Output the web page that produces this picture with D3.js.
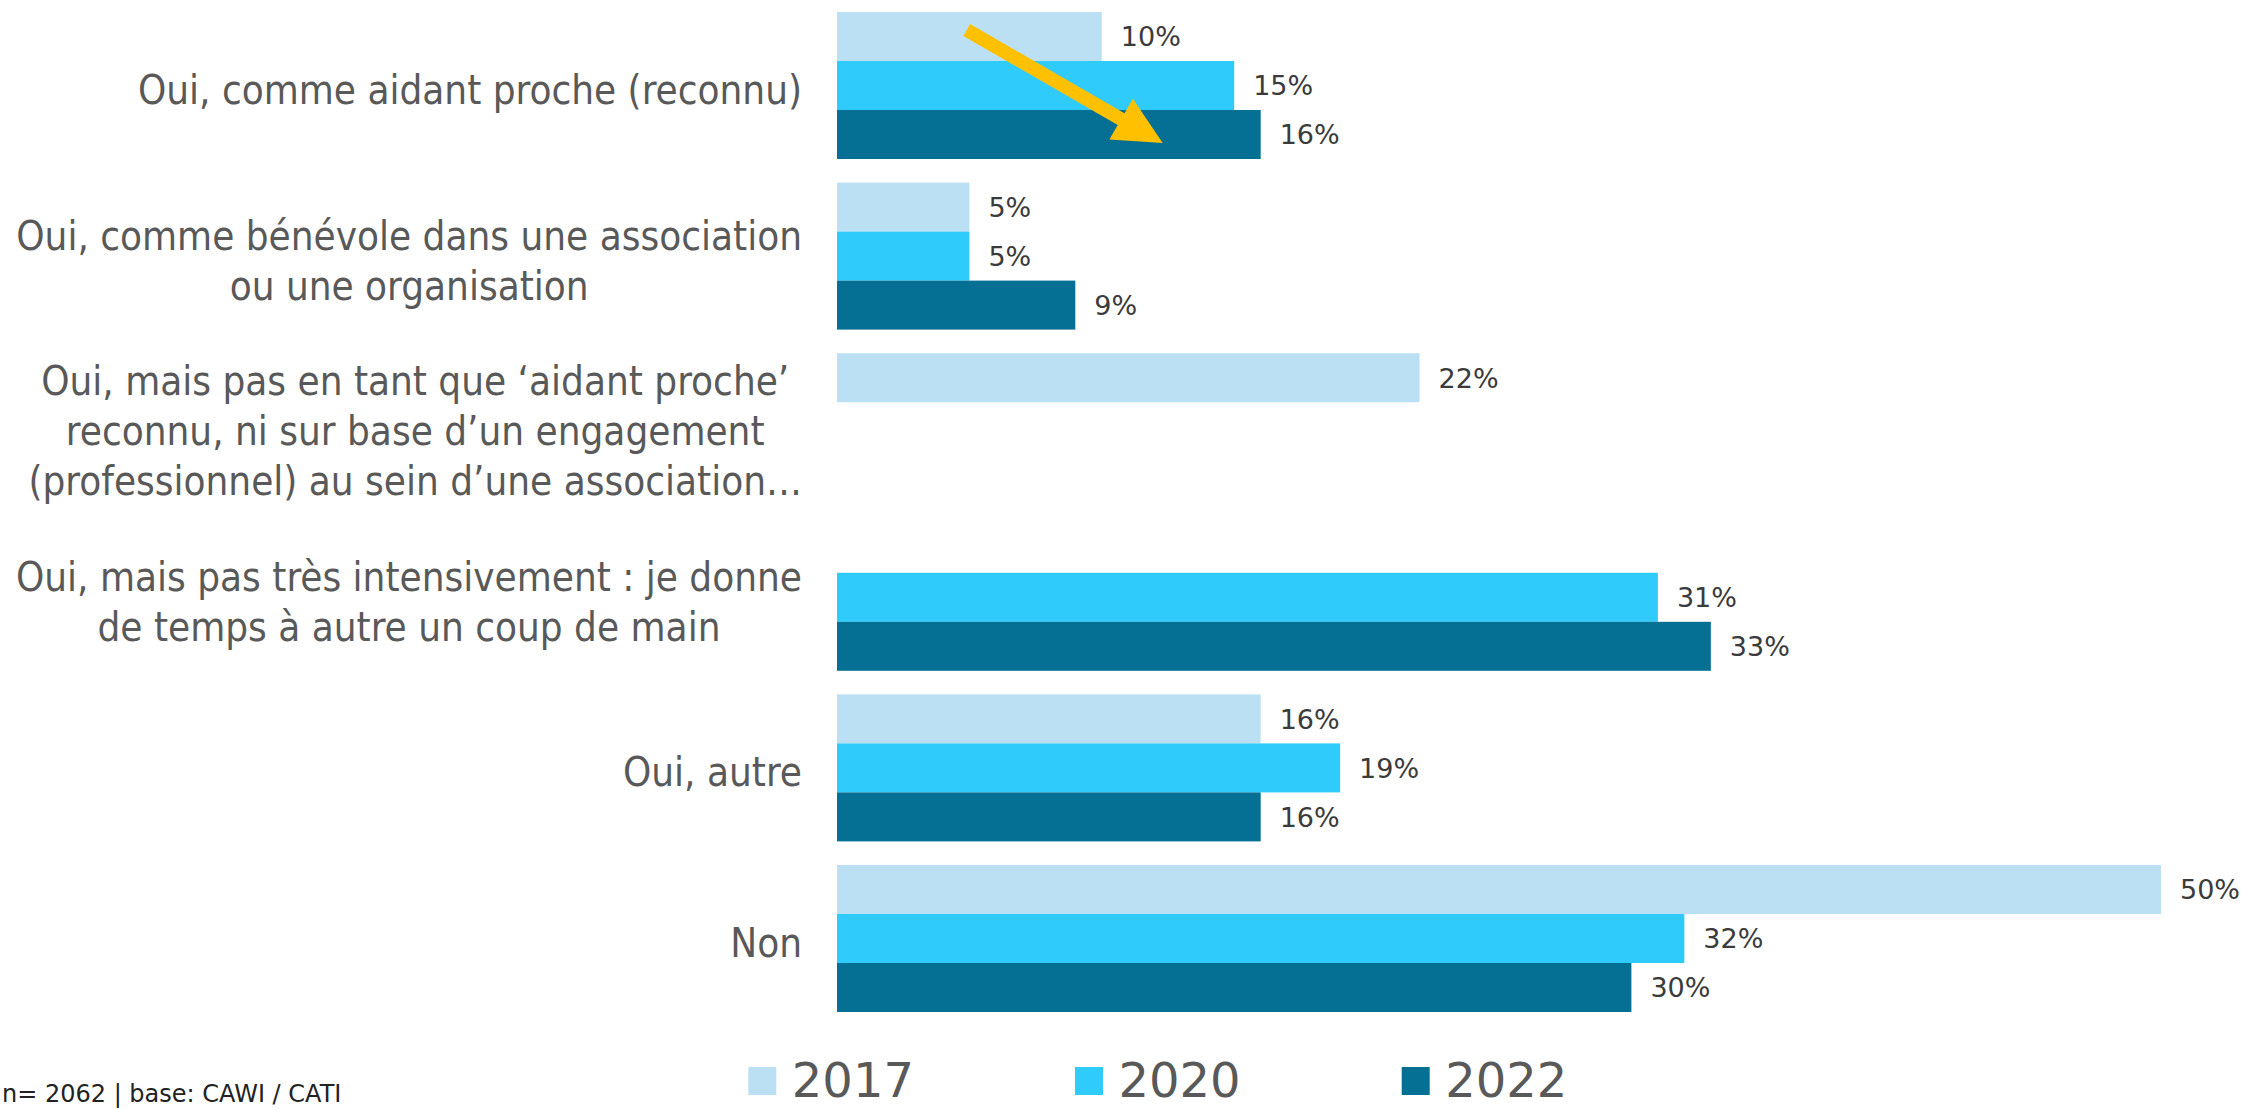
<!DOCTYPE html>
<html lang="fr">
<head>
<meta charset="utf-8">
<script src="https://cdn.jsdelivr.net/npm/d3@7"></script>
<style>
  html, body { margin: 0; padding: 0; background: #ffffff; }
  svg { display: block; }
  .cat { font-family: "DejaVu Sans Condensed", "DejaVu Sans", sans-serif; font-stretch: condensed; fill: #595959; }
  .val { font-family: "DejaVu Sans", sans-serif; fill: #3b3b3b; }
  .leg { font-family: "DejaVu Sans", sans-serif; fill: #595959; }
  .note { font-family: "DejaVu Sans", sans-serif; fill: #222222; }
</style>
</head>
<body>
<svg id="chart" width="2245" height="1109"></svg>
<script>
// Answer categories (multi-line labels split on "\n")
const categories = [
  "Oui, comme aidant proche (reconnu)",
  "Oui, comme bénévole dans une association\nou une organisation",
  "Oui, mais pas en tant que ‘aidant proche’\nreconnu, ni sur base d’un engagement\n(professionnel) au sein d’une association…",
  "Oui, mais pas très intensivement : je donne\nde temps à autre un coup de main",
  "Oui, autre",
  "Non"
];

// Survey waves
const years = ["2017", "2020", "2022"];

// Shares (%) per wave; null = answer not offered that year
const values2017 = [10, 5, 22, null, 16, 50];
const values2020 = [15, 5, null, 31, 19, 32];
const values2022 = [16, 9, null, 33, 16, 30];

const colors = ["#bbe0f4", "#2ecbfb", "#057093"];
const footnote = "n= 2062  |  base: CAWI / CATI";

const seriesByYear = [values2017, values2020, values2022];
const rows = categories.map((c, i) => ({
  category: c,
  bars: years.map((y, k) => ({ year: y, value: seriesByYear[k][i], color: colors[k] }))
}));

const svg = d3.select("#chart");

const x = d3.scaleLinear().domain([0, 50]).range([837, 2161]);
const y0 = d3.scaleBand().domain(categories).range([0.2, 1023.8])
  .paddingInner(0.1383).paddingOuter(0.0692);
const y1 = d3.scaleBand().domain(years).range([0, y0.bandwidth()]).padding(0);

// Bars
const groups = svg.append("g").selectAll("g.group")
  .data(rows).join("g")
  .attr("class", "group")
  .attr("transform", d => `translate(0,${y0(d.category)})`);

groups.selectAll("rect")
  .data(d => d.bars.filter(b => b.value !== null))
  .join("rect")
  .attr("x", x(0))
  .attr("y", b => y1(b.year))
  .attr("width", b => x(b.value) - x(0))
  .attr("height", y1.bandwidth())
  .attr("fill", b => b.color);

// Value labels
const valSize = 27;
groups.selectAll("text.val")
  .data(d => d.bars.filter(b => b.value !== null))
  .join("text")
  .attr("class", "val")
  .attr("x", b => x(b.value) + 19)
  .attr("y", b => y1(b.year) + y1.bandwidth() / 2 + valSize * 0.365)
  .attr("font-size", valSize)
  .text(b => b.value + "%");

// Category labels: lines centred on each other, block aligned right
const catSize = 40;
const lineGap = 50;
const labelRight = 802;
const labels = svg.append("g").selectAll("text.cat")
  .data(rows).join("text")
  .attr("class", "cat")
  .attr("font-size", catSize);

labels.each(function (d) {
  const t = d3.select(this);
  const lines = d.category.split("\n");
  const cy = y0(d.category) + y0.bandwidth() / 2;
  const firstBase = cy - (lines.length - 1) * lineGap / 2 + 18.5;
  const spans = t.selectAll("tspan").data(lines).join("tspan")
    .attr("y", (l, i) => firstBase + i * lineGap)
    .attr("text-anchor", "middle")
    .text(l => l);
  let maxW = 0;
  spans.each(function () { maxW = Math.max(maxW, this.getComputedTextLength()); });
  const right = Math.max(labelRight, maxW + 14);
  spans.attr("x", right - maxW / 2);
});

// Trend arrow on the first category
const firstTop = y0(categories[0]);
const tail = [x(4.9), firstTop + 18];
const tip = [x(12.3), firstTop + 131];
const dx = tip[0] - tail[0], dy = tip[1] - tail[1];
const len = Math.hypot(dx, dy);
const ux = dx / len, uy = dy / len, px = -uy, py = ux;
const headLen = 48, headHalf = 23.5, shaftHalf = 6.8;
const bx = tip[0] - ux * headLen, by = tip[1] - uy * headLen;
const arrowPts = [
  [tail[0] + px * shaftHalf, tail[1] + py * shaftHalf],
  [bx + px * shaftHalf, by + py * shaftHalf],
  [bx + px * headHalf, by + py * headHalf],
  tip,
  [bx - px * headHalf, by - py * headHalf],
  [bx - px * shaftHalf, by - py * shaftHalf],
  [tail[0] - px * shaftHalf, tail[1] - py * shaftHalf]
];
svg.append("path")
  .attr("d", d3.line()(arrowPts) + "Z")
  .attr("fill", "#ffc000");

// Legend
const legend = svg.append("g").selectAll("g.leg")
  .data(years).join("g")
  .attr("transform", (d, i) => `translate(${748.3 + i * 326.7},1067)`);
legend.append("rect")
  .attr("width", 28).attr("height", 28)
  .attr("fill", (d, i) => colors[i]);
legend.append("text")
  .attr("class", "leg")
  .attr("x", 43.5).attr("y", 30)
  .attr("font-size", 48)
  .text(d => d);

// Sample note
svg.append("text")
  .attr("class", "note")
  .attr("x", 2).attr("y", 1102)
  .attr("font-size", 24)
  .text(footnote);
</script>
</body>
</html>
